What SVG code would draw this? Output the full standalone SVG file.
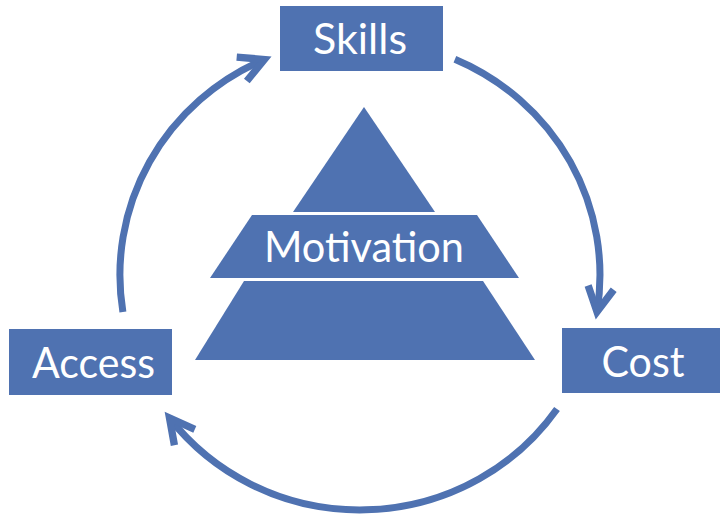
<svg xmlns="http://www.w3.org/2000/svg" width="720" height="519" viewBox="0 0 720 519">
  <style>
    .box { fill: #4F72B1; }
    .lbl { fill: #ffffff; font-family: "Lato", "Open Sans", "Liberation Sans", sans-serif; font-size: 42px; text-anchor: middle; }
    .conn { fill: none; stroke: #4F72B1; stroke-width: 7; }
  </style>
  <defs>
    <marker id="ah" markerUnits="strokeWidth" markerWidth="8" markerHeight="8" viewBox="-5 -4 8 8" refX="0" refY="0" orient="auto" overflow="visible">
      <path d="M-3.5,-1.85 L0,0 L-3.5,1.85" fill="none" stroke="#4F72B1" stroke-width="1.05" stroke-linejoin="miter"/>
    </marker>
  </defs>
  <rect width="720" height="519" fill="#ffffff"/>

  <g id="connectors">
    <path class="conn" marker-end="url(#ah)" d="M122.9,312 A240,235 0 0 1 264.3,59.5"/>
    <path class="conn" marker-end="url(#ah)" d="M454.9,59.2 A240,235 0 0 1 597,311.8"/>
    <path class="conn" marker-end="url(#ah)" d="M557,409 A240,235 0 0 1 169.5,418"/>
  </g>

  <g id="motivation">
    <polygon class="box" points="364,107 435,212 293,212"/>
    <polygon class="box" points="252,215 477,215 519,278 210,278"/>
    <polygon class="box" points="244,281 483,281 535,360 195,360"/>
    <text class="lbl" x="364" y="262" textLength="200" lengthAdjust="spacingAndGlyphs">Motivation</text>
  </g>

  <g id="skills">
    <rect class="box" x="280" y="6" width="163" height="65"/>
    <text class="lbl" x="360" y="54" textLength="94" lengthAdjust="spacingAndGlyphs">Skills</text>
  </g>

  <g id="access">
    <rect class="box" x="9" y="329" width="163" height="66"/>
    <text class="lbl" x="93.5" y="378" textLength="123" lengthAdjust="spacingAndGlyphs">Access</text>
  </g>

  <g id="cost">
    <rect class="box" x="562" y="328" width="158" height="65"/>
    <text class="lbl" x="643" y="377" textLength="83" lengthAdjust="spacingAndGlyphs">Cost</text>
  </g>
</svg>
